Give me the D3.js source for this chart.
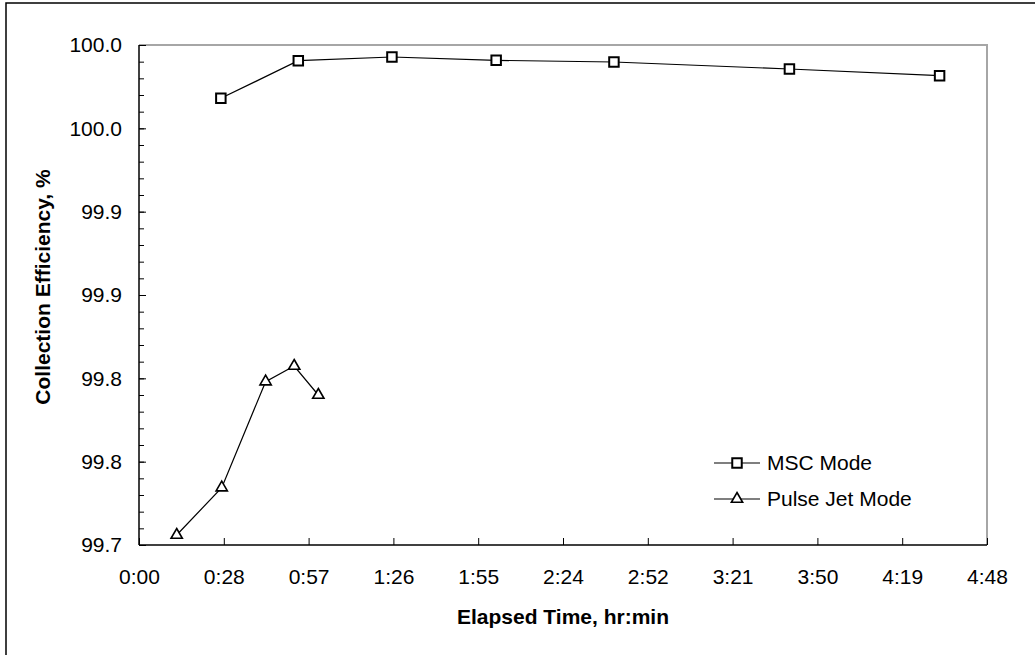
<!DOCTYPE html>
<html>
<head>
<meta charset="utf-8">
<script src="https://cdn.jsdelivr.net/npm/d3@7"></script>
<style>
  html, body { margin: 0; padding: 0; background: #fff; }
  svg { display: block; font-family: "Liberation Sans", Arial, sans-serif; }
</style>
</head>
<body>
<div id="chart"></div>
<script>
// data (x in minutes of elapsed time)
const mscMinutes = [27.8, 54.1, 85.9, 121.3, 161.3, 220.9, 271.9];
const mscEfficiency = [99.968, 99.9906, 99.9928, 99.9908, 99.9898, 99.9856, 99.9816];

const pulseMinutes = [12.8, 28.1, 43.0, 52.7, 60.9];
const pulseEfficiency = [99.706, 99.7344, 99.798, 99.8074, 99.790];

const seriesNames = ["MSC Mode", "Pulse Jet Mode"];

const xTickLabels = ["0:00", "0:28", "0:57", "1:26", "1:55", "2:24", "2:52", "3:21", "3:50", "4:19", "4:48"];
const yTickValues = [99.70, 99.75, 99.80, 99.85, 99.90, 99.95, 100.00];
const yTickLabels = ["99.7", "99.8", "99.8", "99.9", "99.9", "100.0", "100.0"];

function draw() {
  const W = 1035, H = 655;
  const margin = { top: 45, right: 48, bottom: 110, left: 139 };
  const width = W - margin.left - margin.right;
  const height = H - margin.top - margin.bottom;

  const svg = d3.select("#chart")
    .append("svg")
    .attr("width", W)
    .attr("height", H);

  svg.append("rect").attr("width", W).attr("height", H).attr("fill", "#fff");

  // outer chart frame (only left and top fall inside the picture)
  svg.append("path")
    .attr("d", `M6,${H + 5}V3H${W + 5}`)
    .attr("fill", "none")
    .attr("stroke", "#000")
    .attr("stroke-width", 1.5);

  const g = svg.append("g")
    .attr("transform", `translate(${margin.left},${margin.top})`);

  // scales
  const xScale = d3.scaleLinear().domain([0, 288]).range([0, width]);
  const yScale = d3.scaleLinear().domain([99.7, 100.0]).range([height, 0]);

  const xTickValues = xTickLabels.map((d, i) => i * 28.8);
  const yMinor = d3.range(0, 31).map(i => 99.7 + i * 0.01);

  // plot area border, grey on top and right
  g.append("path")
    .attr("d", `M0,0H${width}V${height}`)
    .attr("fill", "none")
    .attr("stroke", "#a6a6a6")
    .attr("stroke-width", 2);

  // minor y ticks
  g.append("g")
    .call(d3.axisRight(yScale).tickValues(yMinor).tickSize(5).tickFormat(""))
    .call(a => a.select(".domain").remove())
    .selectAll("line").attr("stroke", "#000");

  // y axis
  const yAxis = g.append("g")
    .call(d3.axisRight(yScale)
      .tickValues(yTickValues)
      .tickSize(7)
      .tickFormat((d, i) => yTickLabels[i]));
  yAxis.select(".domain").attr("stroke", "#000").attr("stroke-width", 1.5).attr("d", `M0,0V${height}`);
  yAxis.selectAll("text")
    .attr("x", -17)
    .attr("text-anchor", "end")
    .attr("font-size", 21)
    .attr("fill", "#000");

  // x axis
  const xAxis = g.append("g")
    .attr("transform", `translate(0,${height})`)
    .call(d3.axisTop(xScale)
      .tickValues(xTickValues)
      .tickSize(7)
      .tickFormat((d, i) => xTickLabels[i]));
  xAxis.select(".domain").attr("stroke", "#000").attr("stroke-width", 1.5).attr("d", `M0,0H${width}`);
  xAxis.selectAll("text")
    .attr("y", 32)
    .attr("dy", "0.35em")
    .attr("font-size", 21)
    .attr("fill", "#000");

  // axis titles
  svg.append("text")
    .attr("x", margin.left + width / 2)
    .attr("y", 617)
    .attr("dy", "0.35em")
    .attr("text-anchor", "middle")
    .attr("font-size", 21)
    .attr("font-weight", "bold")
    .text("Elapsed Time, hr:min");

  svg.append("text")
    .attr("transform", `translate(43,${margin.top + height / 2 - 8}) rotate(-90)`)
    .attr("dy", "0.35em")
    .attr("text-anchor", "middle")
    .attr("font-size", 21)
    .attr("font-weight", "bold")
    .text("Collection Efficiency, %");

  // lines
  const line = d3.line()
    .x(d => xScale(d[0]))
    .y(d => yScale(d[1]));

  const mscData = mscMinutes.map((m, i) => [m, mscEfficiency[i]]);
  const pulseData = pulseMinutes.map((m, i) => [m, pulseEfficiency[i]]);

  g.append("path")
    .datum(mscData)
    .attr("d", line)
    .attr("fill", "none")
    .attr("stroke", "#000")
    .attr("stroke-width", 1.2);

  g.append("path")
    .datum(pulseData)
    .attr("d", line)
    .attr("fill", "none")
    .attr("stroke", "#000")
    .attr("stroke-width", 1.2);

  const square = d3.symbol().type(d3.symbolSquare).size(90);
  const triangle = d3.symbol().type(d3.symbolTriangle).size(55);

  g.append("g")
    .selectAll("path")
    .data(mscData)
    .join("path")
    .attr("transform", d => `translate(${xScale(d[0])},${yScale(d[1])})`)
    .attr("d", square)
    .attr("fill", "#fff")
    .attr("stroke", "#000")
    .attr("stroke-width", 2);

  g.append("g")
    .selectAll("path")
    .data(pulseData)
    .join("path")
    .attr("transform", d => `translate(${xScale(d[0])},${yScale(d[1])})`)
    .attr("d", triangle)
    .attr("fill", "#fff")
    .attr("stroke", "#000")
    .attr("stroke-width", 1.6);

  // legend
  const legend = svg.append("g").attr("transform", "translate(714,463)");
  const symbols = [square, triangle];
  seriesNames.forEach((name, i) => {
    const row = legend.append("g").attr("transform", `translate(0,${i * 36})`);
    row.append("line")
      .attr("x1", 0).attr("x2", 46)
      .attr("stroke", "#000").attr("stroke-width", 1.2);
    row.append("path")
      .attr("transform", "translate(23,0)")
      .attr("d", symbols[i])
      .attr("fill", "#fff")
      .attr("stroke", "#000")
      .attr("stroke-width", i === 0 ? 2 : 1.6);
    row.append("text")
      .attr("x", 53)
      .attr("dy", "0.35em")
      .attr("font-size", 21)
      .text(name);
  });
}

draw();
</script>
</body>
</html>
